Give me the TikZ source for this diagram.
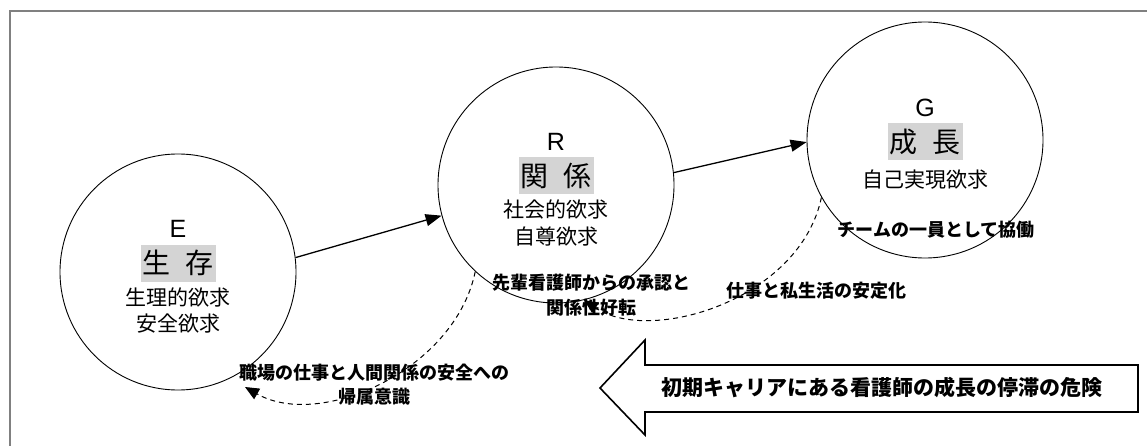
\documentclass[tikz,border=0pt]{standalone}
\usepackage{fontspec}
\setmainfont{Liberation Sans}
\newfontfamily\jp{Noto Sans CJK JP}
\usetikzlibrary{arrows.meta}
\begin{document}
\begin{tikzpicture}[x=1pt,y=-1pt,
 circ/.style={circle,draw,line width=0.9pt,minimum size=236pt,inner sep=0pt},
 letter/.style={font=\fontsize{25}{28}\selectfont,inner sep=0pt},
 title/.style={fill=black!17,minimum width=75pt,minimum height=37pt,inner sep=0pt,font=\jp\fontsize{28}{30}\selectfont},
 sub/.style={font=\jp\fontsize{21}{25}\selectfont,inner sep=0pt},
 lbl/.style={font=\jp\bfseries\fontsize{18}{24.5}\selectfont,align=center,inner sep=0pt},
 flow/.style={line width=1.3pt,-{Triangle[length=16pt,width=12pt]}},
 back/.style={dash pattern=on 5pt off 4pt,line width=1pt,-{Triangle[length=14pt,width=12pt,sep=0pt]}}]
\useasboundingbox (0,0) rectangle (1147,446);
\draw[gray, line width=2pt] (1147,11) -- (10,11) -- (10,446);

\node[circ] (E) at (178,272) {};
\node[circ] (R) at (556,185) {};
\node[circ] (G) at (925,140) {};

\node[letter] (Eletter) at (178,229) {E};
\node[title] (Etitle) at (178,263) {生\hspace{15pt}存};
\node[sub] (Es1) at (178,297) {生理的欲求};
\node[sub] (Es2) at (178,324) {安全欲求};

\node[letter] (Rletter) at (556,142) {R};
\node[title] (Rtitle) at (556,176) {関\hspace{15pt}係};
\node[sub] (Rs1) at (556,210) {社会的欲求};
\node[sub] (Rs2) at (556,237) {自尊欲求};

\node[letter] (Gletter) at (925,108) {G};
\node[title] (Gtitle) at (925,142) {成\hspace{15pt}長};
\node[sub] (Gs1) at (925,180) {自己実現欲求};

\draw[flow] (E.7) -- (R.195);
\draw[flow] (R.6) -- (G.181);

\node[lbl] (l1) at (374,384.5) {職場の仕事と人間関係の安全への\\帰属意識};
\node[lbl] (l2) at (591,295) {先輩看護師からの承認と\\関係性好転};
\node[lbl] (l3) at (816,291) {仕事と私生活の安定化};
\node[lbl] (l4) at (936,230) {チームの一員として協働};

\coordinate (eTip) at (245,387);
\draw[back] (R.227) .. controls (455,370) and (320,430) .. (eTip);
\coordinate (rTip) at (584,300);
\draw[back] (G.209) .. controls (800,300) and (650,345) .. (rTip);

\draw[line width=1.6pt, fill=white] (600,388) -- (645,340) -- (645,365) -- (1138,365) -- (1138,412) -- (645,412) -- (645,435) -- cycle;
\node[font=\jp\bfseries\fontsize{21}{25}\selectfont,inner sep=0pt] (warn) at (882,388) {初期キャリアにある看護師の成長の停滞の危険};
\end{tikzpicture}
\end{document}
